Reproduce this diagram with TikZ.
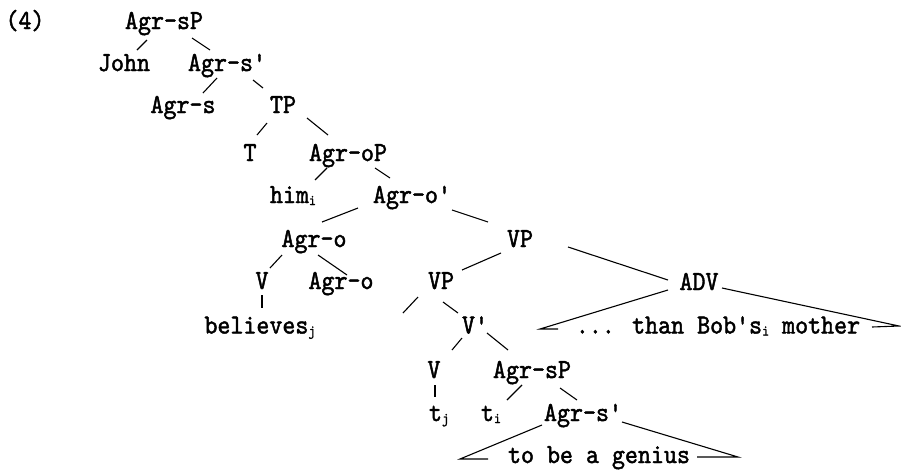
\documentclass[tikz,border=0pt]{standalone}
\usetikzlibrary{calc}
\font\treefont="[lmmono10-regular]:embolden=1.6;extend=0.9" at 27.5pt
\font\treesubfont="[lmmono10-regular]:embolden=1.2;extend=0.9" at 15pt
\newcommand\lsub[1]{\raisebox{-2pt}{\treesubfont #1}}
\newcommand\conn[4]{\draw ($(#1)+(#2)$) -- ($(#3)+(#4)$);}
\tikzset{
  lbl/.style={anchor=base, inner sep=0pt, text height=16pt, text depth=5pt,
    font=\treefont},
  every path/.style={line width=1.1pt}
}
\begin{document}
\begin{tikzpicture}[x=1pt,y=-1pt]
\useasboundingbox (0,0) rectangle (901,469);
\node[lbl] (n4)   at (25,29)  {(4)};
\node[lbl] (A1)   at (164,29) {Agr-sP};
\node[lbl] (John) at (124,71) {John};
\node[lbl] (A1b)  at (227,71) {Agr-s'};
\node[lbl] (Agrs) at (183,113) {Agr-s};
\node[lbl] (TP)   at (283,113) {TP};
\node[lbl] (T)    at (250,161) {T};
\node[lbl] (AoP)  at (348,161) {Agr-oP};
\node[lbl] (him)  at (293,203) {him\lsub{i}};
\node[lbl] (Aob)  at (412,203) {Agr-o'};
\node[lbl] (Ao)   at (314,247) {Agr-o};
\node[lbl] (VP1)  at (520,247) {VP};
\node[lbl] (V1)   at (262,289) {V};
\node[lbl] (Ao2)  at (341,289) {Agr-o};
\node[lbl] (VP2)  at (441,289) {VP};
\node[lbl] (ADV)  at (699,290) {ADV};
\node[lbl] (bel)  at (260,333.5) {believes\lsub{j}};
\node[lbl] (Vbar) at (475,333.5) {V'};
\node[lbl] (than) at (718,333.5) {... than Bob's\lsub{i} mother};
\node[lbl] (V2)   at (434,378) {V};
\node[lbl] (AsP2) at (532,378) {Agr-sP};
\node[lbl] (tj)   at (439,421) {t\lsub{j}};
\node[lbl] (ti)   at (491,421) {t\lsub{i}};
\node[lbl] (As2)  at (583,421) {Agr-s'};
\node[lbl] (gen)  at (599,463) {to be a genius};
\coordinate (e1) at (403,313);
% tree lines
\conn{A1}{-17,16.5}{John}{13,-15.5}
\conn{A1}{28,14.5}{A1b}{-17,-15.5}
\conn{A1b}{-10,12.5}{Agrs}{20,-14.5}
\conn{A1b}{26,14.5}{TP}{-20,-19.5}
\conn{TP}{-16,15.5}{T}{7,-20.5}
\conn{TP}{24,10.5}{AoP}{-20,-20.5}
\conn{AoP}{-21,12.5}{him}{22,-17.5}
\conn{AoP}{27,12.5}{Aob}{-22,-19.5}
\conn{Aob}{-54,10.5}{Ao}{8,-19.5}
\conn{Aob}{40,12.5}{VP1}{-32,-19.5}
\conn{Ao}{-32,13.5}{V1}{8,-15.5}
\conn{Ao}{4,13.5}{Ao2}{6,-8.5}
\conn{VP1}{-19,11.5}{VP2}{21,-13.5}
\conn{VP1}{48,5.5}{ADV}{-31,-4.5}
\draw ($(VP2)+(-23,13.5)$) -- (e1);
\conn{VP2}{2,18.5}{Vbar}{-17,-15}
\conn{V1}{0,11.5}{bel}{2,-20}
\conn{Vbar}{-13,10}{V2}{18,-22.5}
\conn{Vbar}{12,5}{AsP2}{-24,-22.5}
\conn{V2}{1,12.5}{tj}{-4,-18.5}
\conn{AsP2}{-10,12.5}{ti}{16,-15.5}
\conn{AsP2}{28,15.5}{As2}{-6,-15.5}
% triangles
\draw ($(ADV)+(-31,5.5)$) -- ($(than)+(-178,1)$) -- ($(than)+(-160,1)$);
\draw ($(ADV)+(23,3.5)$) -- ($(than)+(181,-2)$) -- ($(than)+(154,-1)$);
\draw ($(As2)+(-41,9.5)$) -- ($(gen)+(-139,1.5)$) -- ($(gen)+(-111,1.5)$);
\draw ($(As2)+(39,6.5)$) -- ($(gen)+(139,-0.5)$) -- ($(gen)+(98,-0.5)$);
\end{tikzpicture}
\end{document}
